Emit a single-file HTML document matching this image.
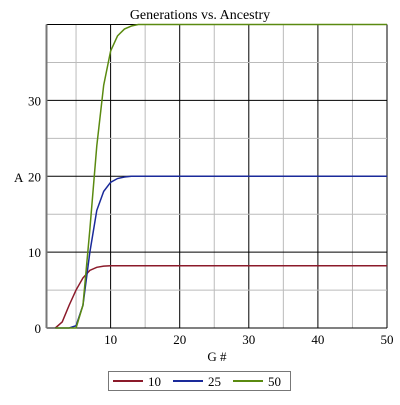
<!DOCTYPE html>
<html><head><meta charset="utf-8"><style>
body{margin:0;background:#fff;width:400px;height:400px;overflow:hidden;font-family:"Liberation Serif",serif}
</style></head><body>
<svg width="400" height="400" font-family="Liberation Serif, serif" font-size="13">
<text x="200" y="19" text-anchor="middle" font-size="14">Generations vs. Ancestry</text>
<g id="grid"></g>
<g id="series"></g>
<line x1="46.5" y1="24.5" x2="46.5" y2="328" stroke="#777" stroke-width="2"/>
<text x="14" y="182" font-size="13">A</text>
<text x="217" y="361" text-anchor="middle" font-size="13">G #</text>
<g>
<rect x="108.5" y="371.5" width="182" height="19" fill="#fff" stroke="#777"/>
<g id="legend"></g>
</g>
</svg>
<script>
const gens=[1,2,3,4,5,6,7,8,9,10,11,12,13,14,15,20,30,40,50];
const s10=[0,0,0.8,3,5,6.6,7.6,8.0,8.15,8.2,8.2,8.2,8.2,8.2,8.2,8.2,8.2,8.2,8.2];
const s25=[0,0,0,0,0.3,3,10,15.5,18,19.2,19.7,19.9,20,20,20,20,20,20,20];
const s50=[0,0,0,0,0,3,13,24,32,36.5,38.5,39.4,39.8,40,40,40,40,40,40];
const seriesNames=["10","25","50"];
const colors=["#8b1a2a","#1a2a9a","#5a8a10"];
const xTicks=[10,20,30,40,50];
const yTicks=[0,10,20,30];
const NS="http://www.w3.org/2000/svg";
const X=v=>41.5+(v)*(387-41.5)/50;
const Y=v=>328-v*(328-24.5)/40;
function mk(t,a,p){const e=document.createElementNS(NS,t);for(const k in a)e.setAttribute(k,a[k]);p.appendChild(e);return e;}
const grid=document.getElementById('grid');
for(let v=5;v<=50;v+=5){const major=v%10===0;
const l=mk('line',{x1:X(v),x2:X(v),y1:24.5,y2:328,stroke:major?'#000':'#bbb','stroke-width':1},grid);

}
for(let v=5;v<=40;v+=5){const major=v%10===0;
const l=mk('line',{x1:46.5,x2:387,y1:Y(v),y2:Y(v),stroke:major?'#000':'#bbb','stroke-width':1},grid);

}
const b=mk('line',{x1:46.5,x2:387,y1:328,y2:328,stroke:'#000'},grid);


xTicks.forEach(v=>{const t=mk('text',{x:X(v),y:344,'text-anchor':'middle'},grid);t.textContent=v;

});
yTicks.forEach(v=>{const t=mk('text',{x:41,y:Y(v)+5,'text-anchor':'end'},grid);t.textContent=v;

});
const sg=document.getElementById('series');
[s10,s25,s50].forEach((s,i)=>{const pts=gens.map((g,j)=>X(g)+','+Y(s[j])).filter((p,j)=>gens[j]>=2).join(' ');
const p=mk('polyline',{points:pts,fill:'none',stroke:colors[i],'stroke-width':1.5},sg);

});
const lg=document.getElementById('legend');
seriesNames.forEach((n,i)=>{const x0=113+i*60;
const l=mk('line',{x1:x0,x2:x0+30,y1:381,y2:381,stroke:colors[i],'stroke-width':2},lg);


const t=mk('text',{x:x0+35,y:386},lg);t.textContent=n;

});
</script>
</body></html>
